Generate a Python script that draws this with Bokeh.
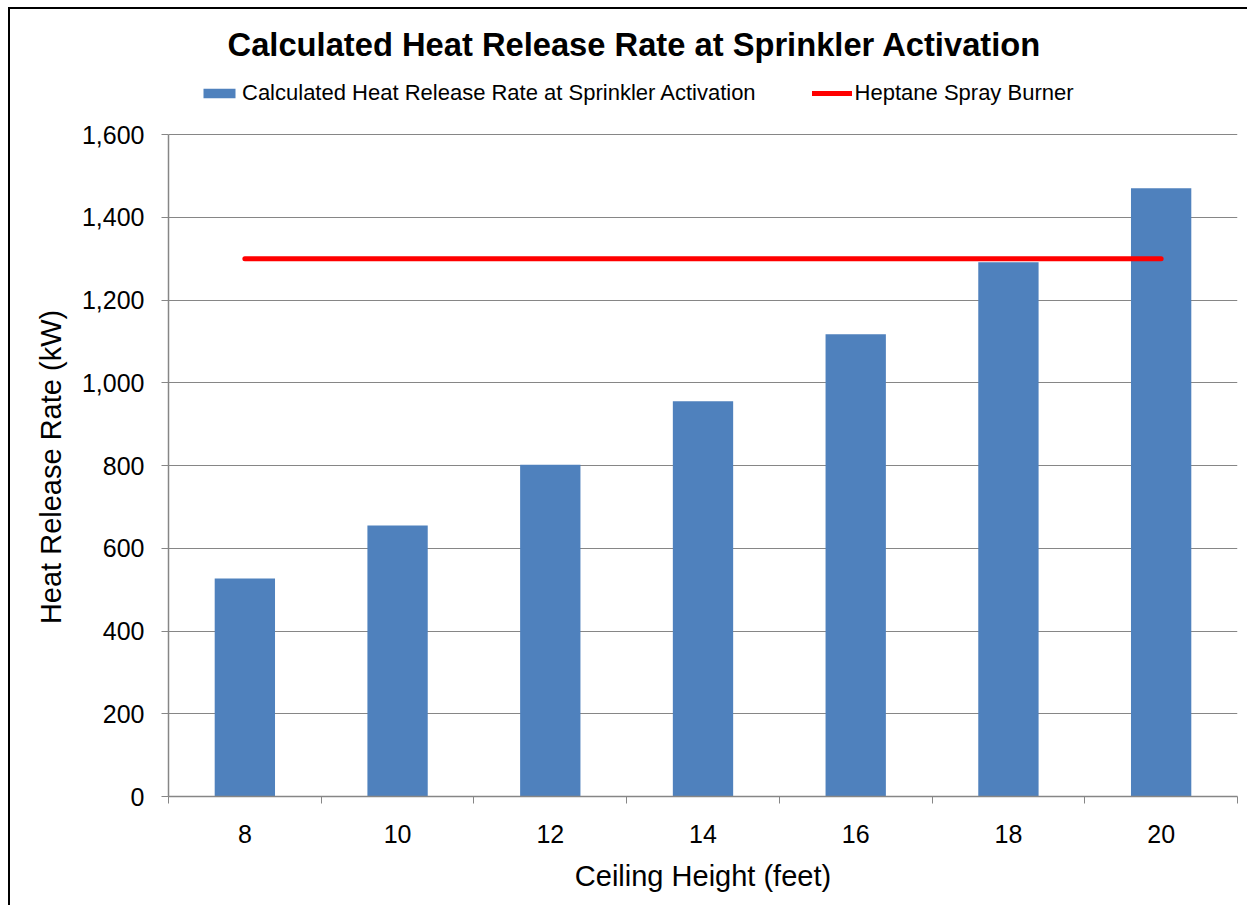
from bokeh.plotting import figure
from bokeh.models import (Range1d, FixedTicker, NumeralTickFormatter, Label, Legend, LegendItem)
from bokeh.embed import file_html
from bokeh.resources import INLINE

heights = [8, 10, 12, 14, 16, 18, 20]
hrr_values = [527, 655, 802, 955, 1117, 1291, 1470]
burner_values = [1300, 1300, 1300, 1300, 1300, 1300, 1300]
y_ticks = [0, 200, 400, 600, 800, 1000, 1200, 1400, 1600]
x_bounds = [7, 9, 11, 13, 15, 17, 19, 21]

title_text = "Calculated Heat Release Rate at Sprinkler Activation"
bar_label = "Calculated Heat Release Rate at Sprinkler Activation"
line_label = "Heptane Spray Burner"
y_title = "Heat Release Rate (kW)"
x_title = "Ceiling Height (feet)"

FONT = "Liberation Sans"
GRAY = "#868686"

# layout (pixels): frame spans the canvas from the top down to the x axis,
# the value axis itself only covers 0..1600 (662 px); the space above holds title and legend
FRAME_H = 796
AXIS_H = 662
y_top = 1600 * FRAME_H / AXIS_H
# the axis label is centred on the whole frame; pad its end so it sits centred on the 0..1600 axis
Y_LABEL_PAD = "\u00a0" * 17

p = figure(width=1247, height=905, output_backend="svg", toolbar_location=None,
           x_range=Range1d(7, 21), y_range=Range1d(0, y_top),
           min_border_left=168, min_border_right=10, min_border_top=0, min_border_bottom=109)
p.styles = {"background": "linear-gradient(#000,#000) 8px 7px / 2px calc(100% - 7px) no-repeat, "
                          "linear-gradient(#000,#000) 8px 7px / calc(100% - 8px) 2px no-repeat, #fff"}
p.outline_line_color = None
p.background_fill_alpha = 0
p.border_fill_alpha = 0

bars = p.vbar(x=heights, top=hrr_values, width=0.79, bottom=0, fill_color="#4F81BD", line_color=None)
ln = p.line(x=heights, y=burner_values, line_color="#FF0000", line_width=5, line_cap="round")

# axes
p.xaxis.ticker = FixedTicker(ticks=heights, minor_ticks=x_bounds)
p.xaxis.major_tick_out = 0
p.xaxis.major_tick_in = 0
p.xaxis.minor_tick_out = 7
p.xaxis.minor_tick_in = 0
p.xaxis.minor_tick_line_color = GRAY
p.xaxis.axis_line_color = GRAY
p.xaxis.axis_line_width = 1.5
p.xaxis.major_label_text_font = FONT
p.xaxis.major_label_text_font_size = "25px"
p.xaxis.major_label_text_color = "black"
p.xaxis.major_label_standoff = 21
p.xaxis.axis_label = x_title
p.xaxis.axis_label_text_font = FONT
p.xaxis.axis_label_text_font_size = "29px"
p.xaxis.axis_label_text_font_style = "normal"
p.xaxis.axis_label_text_color = "black"
p.xaxis.axis_label_standoff = 14

p.yaxis.ticker = FixedTicker(ticks=y_ticks)
p.yaxis.bounds = (0, 1600)
p.yaxis.formatter = NumeralTickFormatter(format="0,0")
p.yaxis.major_tick_out = 7
p.yaxis.major_tick_in = 0
p.yaxis.major_tick_line_color = GRAY
p.yaxis.minor_tick_line_color = None
p.yaxis.axis_line_color = GRAY
p.yaxis.axis_line_width = 1.5
p.yaxis.major_label_text_font = FONT
p.yaxis.major_label_text_font_size = "25px"
p.yaxis.major_label_text_color = "black"
p.yaxis.major_label_standoff = 17
p.yaxis.axis_label = y_title + Y_LABEL_PAD
p.yaxis.axis_label_text_font = FONT
p.yaxis.axis_label_text_font_size = "29px"
p.yaxis.axis_label_text_font_style = "normal"
p.yaxis.axis_label_text_color = "black"
p.yaxis.axis_label_standoff = 12

p.xgrid.grid_line_color = None
p.ygrid.grid_line_color = GRAY
p.ygrid.grid_line_width = 1

# title (screen units from the frame's bottom-left corner)
p.add_layout(Label(x=466, y=FRAME_H - 44, x_units="screen", y_units="screen", text=title_text,
                   text_align="center", text_baseline="alphabetic",
                   text_font=FONT, text_font_size="32.7px", text_font_style="bold",
                   text_color="black"))

legend = Legend(items=[LegendItem(label=bar_label, renderers=[bars]),
                       LegendItem(label=line_label, renderers=[ln])],
                orientation="horizontal", location=(31, FRAME_H - 106),
                label_text_font=FONT, label_text_font_size="22px", label_text_color="black",
                glyph_width=40, glyph_height=12, label_standoff=3,
                label_height=24, spacing=56, padding=0, margin=0,
                border_line_color=None, background_fill_alpha=0)
p.add_layout(legend, "center")

open("out.html", "w").write(file_html(p, INLINE))
